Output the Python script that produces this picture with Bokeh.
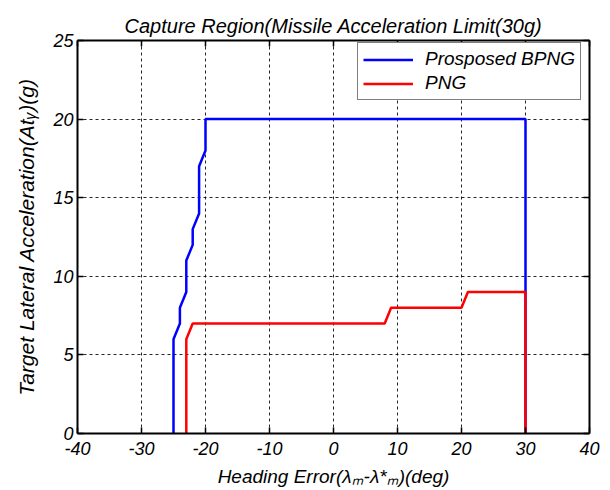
from bokeh.plotting import figure
from bokeh.models import Range1d, LinearAxis, Legend, LegendItem, FixedTicker
from bokeh.embed import file_html
from bokeh.resources import INLINE

# ---- data ----
bpng_x = [-25, -25, -24, -24, -23, -23, -22, -22, -21, -21, -20, -20, 30, 30]
bpng_y = [0, 6, 7, 8, 9, 11, 12, 13, 14, 17, 18, 20, 20, 0]
png_x = [-23, -23, -22, 8, 9, 20, 21, 30, 30]
png_y = [0, 6, 7, 7, 8, 8, 9, 9, 0]
x_ticks = [-40, -30, -20, -10, 0, 10, 20, 30, 40]
y_ticks = [0, 5, 10, 15, 20, 25]
legend_labels = ["Prosposed BPNG", "PNG"]
title_text = "Capture Region(Missile Acceleration Limit(30g)"
x_label = "Heading Error(\u03bb\u2098-\u03bb*\u2098)(deg)"
y_label = "Target Lateral Acceleration(At\u1d67)(g)"

FONT = "Liberation Sans"

p = figure(width=610, height=490, output_backend="svg", toolbar_location=None,
           x_range=Range1d(-40, 40), y_range=Range1d(0, 25),
           min_border_left=77, min_border_right=21, min_border_top=40,
           min_border_bottom=57, background_fill_color="white",
           border_fill_color="white", title=title_text)
p.outline_line_color = None

p.title.align = "center"
p.title.text_font = FONT
p.title.text_font_style = "italic"
p.title.text_font_size = "20px"
p.title.text_color = "black"
p.title.standoff = 8

bottom_ax = p.below[0]
left_ax = p.left[0]
bottom_ax.ticker = FixedTicker(ticks=x_ticks)
left_ax.ticker = FixedTicker(ticks=y_ticks)
bottom_ax.major_label_overrides = {t: str(t) for t in x_ticks}
left_ax.major_label_overrides = {t: str(t) for t in y_ticks}
top_ax = LinearAxis(ticker=FixedTicker(ticks=x_ticks),
                    major_label_overrides={t: "" for t in x_ticks})
right_ax = LinearAxis(ticker=FixedTicker(ticks=y_ticks),
                      major_label_overrides={t: "" for t in y_ticks})
p.add_layout(top_ax, "above")
p.add_layout(right_ax, "right")

for ax in [bottom_ax, left_ax, top_ax, right_ax]:
    ax.axis_line_color = "black"
    ax.axis_line_width = 2
    ax.major_tick_in = 6
    ax.major_tick_out = 0
    ax.major_tick_line_color = "black"
    ax.major_tick_line_width = 1.5
    ax.minor_tick_line_color = None
    ax.major_label_text_font = FONT
    ax.major_label_text_font_style = "italic"
    ax.major_label_text_font_size = "18px"
    ax.major_label_text_color = "black"
    ax.axis_label_text_font = FONT
    ax.axis_label_text_font_style = "italic"
    ax.axis_label_text_font_size = "19px"
    ax.axis_label_text_color = "black"
top_ax.major_label_standoff = 0
right_ax.major_label_standoff = 0

bottom_ax.axis_label = x_label
left_ax.axis_label = y_label
left_ax.axis_label_text_font_size = "21px"
bottom_ax.major_label_standoff = 8
left_ax.major_label_standoff = 4
bottom_ax.axis_label_standoff = 8
left_ax.axis_label_standoff = 12

p.grid.grid_line_color = "black"
p.grid.grid_line_dash = "3 3"
p.grid.grid_line_width = 1
p.grid.grid_line_alpha = 0.85
p.xgrid.ticker = FixedTicker(ticks=x_ticks)
p.ygrid.ticker = FixedTicker(ticks=y_ticks)

rb = p.line(bpng_x, bpng_y, line_color="#0000ff", line_width=2.5)
rr = p.line(png_x, png_y, line_color="#ff0000", line_width=2.5)

legend = Legend(items=[LegendItem(label=legend_labels[0], renderers=[rb]),
                       LegendItem(label=legend_labels[1], renderers=[rr])],
                location=(280, 333), margin=0, padding=5, spacing=2,
                glyph_width=50, glyph_height=17, label_height=17,
                label_standoff=12, border_line_color="black",
                border_line_width=1.5, background_fill_color="white",
                background_fill_alpha=1.0,
                label_text_font=FONT, label_text_font_style="italic",
                label_text_font_size="19px", label_text_color="black")
p.add_layout(legend)

open("out.html", "w").write(file_html(p, INLINE))
